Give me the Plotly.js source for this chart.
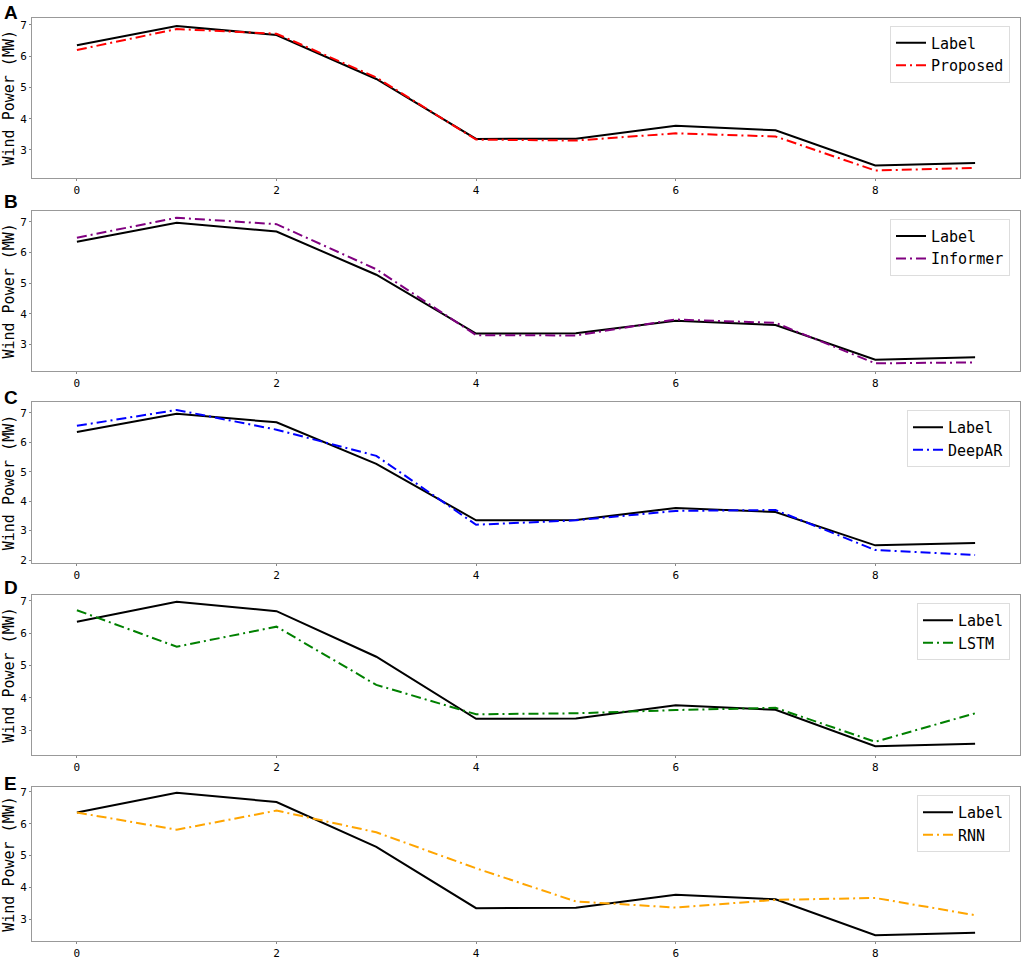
<!DOCTYPE html>
<html>
<head>
<meta charset="utf-8">
<script src="https://cdn.plot.ly/plotly-3.0.1.min.js"></script>
<style>html,body{margin:0;padding:0;background:#fff;}#chart{width:1024px;height:962px;}</style>
</head>
<body>
<div id="chart"></div>
<script>
// ---- data ----
const steps = [0, 1, 2, 3, 4, 5, 6, 7, 8, 9];
const label    = [6.35, 6.97, 6.68, 5.27, 3.35, 3.36, 3.77, 3.63, 2.50, 2.58];
const proposed = [6.20, 6.87, 6.72, 5.32, 3.33, 3.30, 3.53, 3.43, 2.34, 2.42];
const informer = [6.48, 7.13, 6.92, 5.45, 3.30, 3.29, 3.81, 3.70, 2.38, 2.41];
const deepar   = [6.56, 7.10, 6.43, 5.54, 3.20, 3.35, 3.67, 3.70, 2.34, 2.17];
const lstm     = [6.71, 5.58, 6.20, 4.40, 3.49, 3.52, 3.62, 3.69, 2.64, 3.52];
const rnn      = [6.35, 5.81, 6.41, 5.73, 4.60, 3.56, 3.37, 3.61, 3.67, 3.13];
const modelNames = ['Proposed', 'Informer', 'DeepAR', 'LSTM', 'RNN'];
const panelLetters = ['A', 'B', 'C', 'D', 'E'];
const xTickVals = [0, 2, 4, 6, 8];
const yTitle = 'Wind Power (MW)';

// ---- styling ----
const models = [proposed, informer, deepar, lstm, rnn];
const colors = ['#ff0000', '#800080', '#0000ff', '#008000', '#ffa500'];
const H = 962, W = 1024;
const panelPx = [[17.5, 178], [210.7, 371], [402, 563], [595, 755], [787, 941]]; // top,bottom px
const yRanges = [[2.10, 7.24], [2.13, 7.36], [1.90, 7.37], [2.23, 7.18], [2.32, 7.15]];
const letterY = [12.5, 202, 397, 587, 783];
const monoFont = 'DejaVu Sans Mono';

const traces = [];
const layout = {
  width: W, height: H,
  margin: {l: 0, r: 0, t: 0, b: 0},
  paper_bgcolor: '#ffffff', plot_bgcolor: '#ffffff',
  showlegend: true,
  annotations: []
};
const dash = '10px,4px,2px,4px';

for (let i = 0; i < 5; i++) {
  const n = i === 0 ? '' : String(i + 1);
  const xa = 'x' + n, ya = 'y' + n;
  const lg = 'legend' + n;
  traces.push({x: steps, y: label, xaxis: xa, yaxis: ya, type: 'scatter', mode: 'lines',
    name: 'Label', legend: lg, line: {color: '#000000', width: 2}});
  traces.push({x: steps, y: models[i], xaxis: xa, yaxis: ya, type: 'scatter', mode: 'lines',
    name: modelNames[i], legend: lg, line: {color: colors[i], width: 2, dash: dash}});
  const top = panelPx[i][0], bot = panelPx[i][1];
  layout['xaxis' + n] = {
    domain: [32 / W, 1020 / W], anchor: ya, range: [-0.45, 9.45],
    tickvals: xTickVals, ticks: 'outside', ticklen: 2, tickcolor: '#888',
    showline: true, mirror: true, linecolor: '#999', linewidth: 1,
    showgrid: false, zeroline: false,
    tickfont: {family: monoFont, size: 11, color: '#000'}
  };
  layout['yaxis' + n] = {
    domain: [1 - bot / H, 1 - top / H], anchor: xa, range: yRanges[i],
    dtick: 1, tick0: 0, ticks: 'outside', ticklen: 2, tickcolor: '#888',
    showline: true, mirror: true, linecolor: '#999', linewidth: 1,
    showgrid: false, zeroline: false,
    tickfont: {family: monoFont, size: 11, color: '#000'},
    title: {text: yTitle, font: {family: monoFont, size: 15, color: '#000'}, standoff: 3}
  };
  layout[lg] = {
    x: 1010 / W, xanchor: 'right', y: 1 - (top + 8) / H, yanchor: 'top',
    bgcolor: '#ffffff', bordercolor: '#dddddd', borderwidth: 1,
    font: {family: monoFont, size: 15, color: '#000'},
    tracegroupgap: 0
  };
  layout.annotations.push({
    xref: 'paper', yref: 'paper', x: 2 / W, xanchor: 'left',
    y: 1 - letterY[i] / H, yanchor: 'middle', showarrow: false,
    text: '<b>' + panelLetters[i] + '</b>',
    font: {family: 'Liberation Sans', size: 19, color: '#000'}
  });
}

Plotly.newPlot('chart', traces, layout, {displayModeBar: false, staticPlot: true});
</script>
</body>
</html>
